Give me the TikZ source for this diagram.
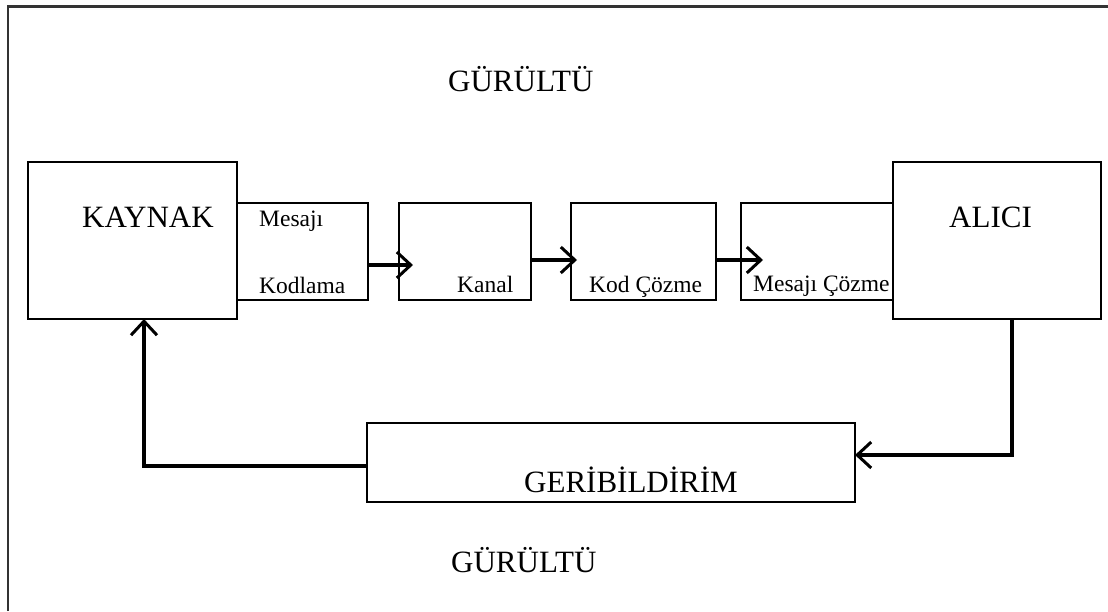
\documentclass[tikz,border=0pt]{standalone}
\usepackage{fontspec}
\setmainfont{Liberation Serif}
\usetikzlibrary{arrows.meta}
\begin{document}
\begin{tikzpicture}[x=1pt,y=-1pt,
  box/.style={draw, line width=1.8pt, fill=white, inner sep=0pt, outer sep=0pt},
  flow/.style={line width=3.4pt, -{Straight Barb[length=14pt,width=26pt,line width=3pt]}},
  big/.style={font=\fontsize{31}{36}\selectfont, anchor=base west, inner sep=0pt},
  small/.style={font=\fontsize{23.5}{27}\selectfont, anchor=base west, inner sep=0pt}]
\useasboundingbox (0,0) rectangle (1108,611);
% page frame (top and left edges)
\draw[line width=2.6pt, black!80] (8,611) -- (8,6.5) -- (1108,6.5);

% blocks
\node[box, minimum width=209pt, minimum height=157pt] (kaynak) at (132.5,240.5) {};
\node[box, minimum width=131pt, minimum height=97pt] (mk) at (302.5,251.5) {};
\node[box, minimum width=132pt, minimum height=97pt] (kanal) at (465,251.5) {};
\node[box, minimum width=145pt, minimum height=97pt] (kod) at (643.5,251.5) {};
\node[box, minimum width=152pt, minimum height=97pt] (mc) at (817,251.5) {};
\node[box, minimum width=488pt, minimum height=79pt] (geri) at (611,462.5) {};

% labels
\node[big] (tk) at (82,227) {KAYNAK};
\node[small] (tm1) at (259,226) {Mesajı};
\node[small] (tm2) at (259,293) {Kodlama};
\node[small] (tkn) at (457,292) {Kanal};
\node[small] (tkc) at (589,292) {Kod Çözme};
\node[small] (tmc) at (753,291) {Mesajı Çözme};
\node[big] (tg) at (524,492) {GERİBİLDİRİM};
\node[big] (gr1) at (448,91) {GÜRÜLTÜ};
\node[big] (gr2) at (451,572) {GÜRÜLTÜ};

% receiver sits over the last block
\node[box, minimum width=208pt, minimum height=157pt] (alici) at (997,240.5) {};
\node[big] (ta) at (949,227) {ALICI};

% guide coordinates
\coordinate (y265) at (0,265);
\coordinate (y260) at (0,260);
\coordinate (t1) at (413,265);
\coordinate (t2) at (577,260);
\coordinate (t3) at (763,260);
\coordinate (fr) at (1012,455);
\coordinate (fl) at (144,466);

% forward flow
\draw[flow] (mk.east |- y265) -- (t1);
\draw[flow] (kanal.east |- y260) -- (t2);
\draw[flow] (kod.east |- y260) -- (t3);

% feedback loop
\draw[flow] (alici.south -| fr) -- (fr) -- (geri.east |- fr);
\draw[flow] (geri.west |- fl) -- (fl) -- (kaynak.south -| fl);
\end{tikzpicture}
\end{document}
